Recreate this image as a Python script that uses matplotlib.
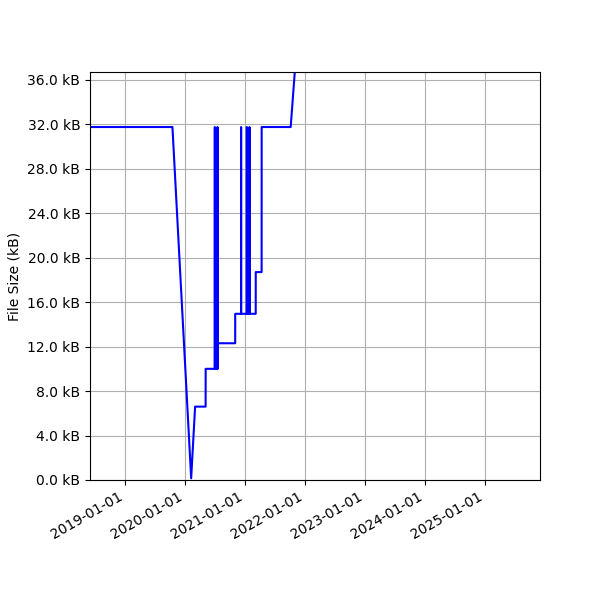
import datetime as dt
import matplotlib
matplotlib.use('Agg')
import matplotlib.pyplot as plt
import matplotlib.dates as mdates
from matplotlib.ticker import MultipleLocator, FuncFormatter

# commit dates and file size in kB
datas = ['2018-03-01 00:00', '2019-10-16 00:00', '2020-02-07 00:00', '2020-03-02 00:00',
         '2020-05-05 00:00', '2020-05-05 06:00',
         '2020-06-30 00:00', '2020-06-30 02:00', '2020-06-30 04:00',
         '2020-07-16 00:00', '2020-07-16 02:00', '2020-07-16 04:00', '2020-07-16 06:00',
         '2020-11-01 00:00', '2020-11-01 06:00',
         '2020-12-07 00:00', '2020-12-07 02:00', '2020-12-07 04:00',
         '2021-01-11 00:00', '2021-01-11 02:00', '2021-01-11 04:00',
         '2021-01-27 00:00', '2021-01-27 02:00', '2021-01-27 04:00',
         '2021-03-06 00:00', '2021-03-06 06:00',
         '2021-04-11 00:00', '2021-04-11 06:00',
         '2021-10-05 00:00', '2021-11-07 00:00']
tamanhos = [31.75, 31.75, 0.15, 6.6,
            6.6, 10.0,
            10.0, 31.75, 10.0,
            10.0, 31.75, 10.0, 12.3,
            12.3, 14.95,
            14.95, 31.75, 14.95,
            14.95, 31.75, 14.95,
            14.95, 31.75, 14.95,
            14.95, 18.7,
            18.7, 31.75,
            31.75, 38.3]

x = [dt.datetime.strptime(d, '%Y-%m-%d %H:%M') for d in datas]

fig, ax = plt.subplots(figsize=(6, 6), dpi=100)
ax.plot(x, tamanhos, color='blue', linewidth=1.5)

ax.set_xlim(dt.datetime(2018, 6, 1), dt.datetime(2025, 12, 1))
ax.set_ylim(0, 36.7)
ax.xaxis.set_major_locator(mdates.YearLocator())
ax.xaxis.set_major_formatter(mdates.DateFormatter('%Y-%m-%d'))
ax.yaxis.set_major_locator(MultipleLocator(4))
ax.yaxis.set_major_formatter(FuncFormatter(lambda v, p: f'{v:.1f} kB'))
ax.set_ylabel('File Size (kB)')
ax.grid(True)

fig.autofmt_xdate()
fig.subplots_adjust(left=0.15, right=0.9, top=0.88, bottom=0.2)
plt.savefig('out.png')
